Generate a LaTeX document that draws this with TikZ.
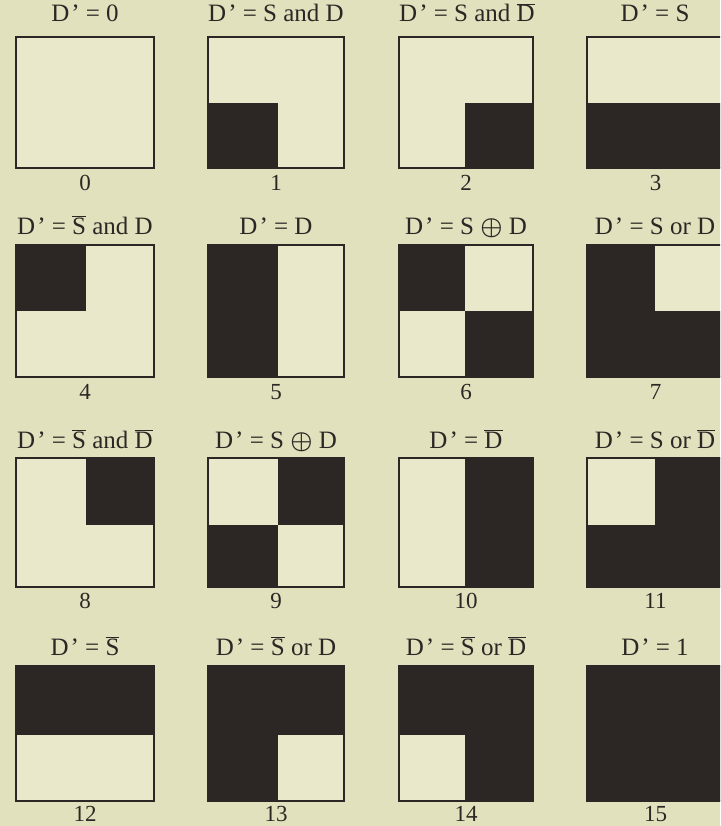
\documentclass[tikz,border=0pt]{standalone}
\usepackage{fontspec}
\setmainfont{Liberation Serif}
\definecolor{paper}{RGB}{226,225,190}
\definecolor{inner}{RGB}{233,232,203}
\definecolor{ink}{RGB}{44,39,36}
\newcommand\ovl[1]{$\overline{\mbox{#1}}$}
\newcommand\Dp{D\kern2pt'}
\newcommand\xor{{\boldmath$\oplus$}}
\begin{document}
\begin{tikzpicture}[x=1pt,y=-1pt,
  lab/.style={font=\fontsize{25}{25}\selectfont, text=ink, anchor=base, inner sep=0pt},
  num/.style={font=\fontsize{23}{23}\selectfont, text=ink, anchor=base, inner sep=0pt},
  dark/.style={fill=ink}]
\useasboundingbox (0,0) rectangle (720,826);
\fill[paper] (0,0) rectangle (720,826);
\clip (0,0) rectangle (720,826);
\foreach \n in {0,...,15}{
  \pgfmathtruncatemacro\c{mod(\n,4)}
  \pgfmathtruncatemacro\r{floor(\n/4)}
  \pgfmathsetmacro\xa{{16,208,399,587}[\c]}
  \pgfmathsetmacro\xb{{154,344,533,724}[\c]}
  \pgfmathsetmacro\xm{{86,278,465,655}[\c]}
  \pgfmathsetmacro\ya{{37,245,458,666}[\r]}
  \pgfmathsetmacro\yb{{168,377,587,801}[\r]}
  \pgfmathsetmacro\ym{{103,311,525,735}[\r]}
  \pgfmathsetmacro\yn{{191,399,608,821}[\r]}
  \pgfmathtruncatemacro\bBL{mod(\n,2)}
  \pgfmathtruncatemacro\bBR{mod(floor(\n/2),2)}
  \pgfmathtruncatemacro\bTL{mod(floor(\n/4),2)}
  \pgfmathtruncatemacro\bTR{mod(floor(\n/8),2)}
  \coordinate (sq\n-nw) at (\xa,\ya);
  \coordinate (sq\n-se) at (\xb,\yb);
  \fill[inner] (sq\n-nw) rectangle (sq\n-se);
  \ifnum\bBL=1 \fill[dark] (\xa,\ym) rectangle (\xm,\yb); \fi
  \ifnum\bBR=1 \fill[dark] (\xm,\ym) rectangle (\xb,\yb); \fi
  \ifnum\bTL=1 \fill[dark] (\xa,\ya) rectangle (\xm,\ym); \fi
  \ifnum\bTR=1 \fill[dark] (\xm,\ya) rectangle (\xb,\ym); \fi
  \draw[ink, line width=1.8pt] (sq\n-nw) rectangle (sq\n-se);
  \pgfmathsetmacro\xc{(\xa+\xb)/2}
  \node[num] (n\n) at (\xc,\yn) {\n};
}
% labels (baselines)
\node[lab] (l0)  at (85,22)  {\Dp\ = 0};
\node[lab] (l1)  at (276,22) {\Dp\ = S and D};
\node[lab] (l2)  at (467,22) {\Dp\ = S and \ovl{D}};
\node[lab] (l3)  at (655,22) {\Dp\ = S};
\node[lab] (l4)  at (85,234) {\Dp\ = \ovl{S} and D};
\node[lab] (l5)  at (276,234) {\Dp\ = D};
\node[lab] (l6)  at (466,234) {\Dp\ = S \xor\ D};
\node[lab] (l7)  at (655,234) {\Dp\ = S or D};
\node[lab] (l8)  at (85,448) {\Dp\ = \ovl{S} and \ovl{D}};
\node[lab] (l9)  at (276,448) {\Dp\ = S \xor\ D};
\node[lab] (l10) at (466,448) {\Dp\ = \ovl{D}};
\node[lab] (l11) at (655,448) {\Dp\ = S or \ovl{D}};
\node[lab] (l12) at (85,655) {\Dp\ = \ovl{S}};
\node[lab] (l13) at (276,655) {\Dp\ = \ovl{S} or D};
\node[lab] (l14) at (466,655) {\Dp\ = \ovl{S} or \ovl{D}};
\node[lab] (l15) at (655,655) {\Dp\ = 1};
\end{tikzpicture}
\end{document}
